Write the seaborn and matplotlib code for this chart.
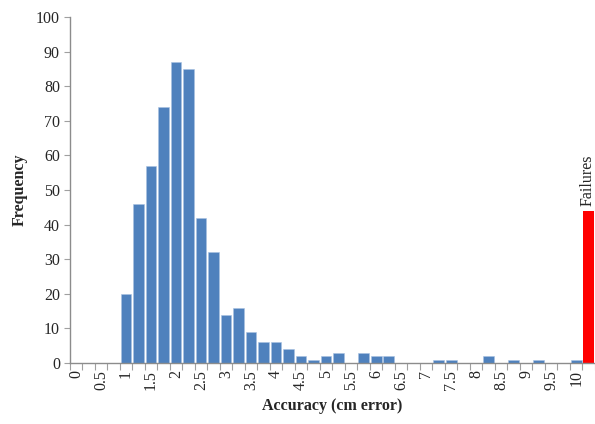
import numpy as np
import pandas as pd
import matplotlib
matplotlib.use("Agg")
import matplotlib.pyplot as plt
import seaborn as sns

# Histogram of accuracy (0.25 cm bins) + failures count
bins = [0, 0.25, 0.5, 0.75, 1, 1.25, 1.5, 1.75, 2, 2.25, 2.5, 2.75, 3, 3.25,
        3.5, 3.75, 4, 4.25, 4.5, 4.75, 5, 5.25, 5.5, 5.75, 6, 6.25, 6.5, 6.75,
        7, 7.25, 7.5, 7.75, 8, 8.25, 8.5, 8.75, 9, 9.25, 9.5, 9.75, 10]
counts = [0, 0, 0, 0, 20, 46, 57, 74, 87, 85, 42, 32, 14, 16,
          9, 6, 6, 4, 2, 1, 2, 3, 0, 3, 2, 2, 0, 0,
          0, 1, 1, 0, 0, 2, 0, 1, 0, 1, 0, 0, 1]
failures = 44

cats = [f"{b:g}" for b in bins] + ["Failures"]
vals = counts + [failures]
kind = ["hist"] * len(bins) + ["fail"]
df = pd.DataFrame({"bin": cats, "count": vals, "kind": kind})

sns.set_style("ticks")
plt.rcParams["font.family"] = ["Liberation Serif", "DejaVu Serif"]

fig = plt.figure(figsize=(5.95, 4.24), dpi=100)
ax = fig.add_axes([69.7 / 595, 61 / 424, 525.3 / 595, 346 / 424])

sns.barplot(data=df, x="bin", y="count", hue="kind", order=cats,
            palette={"hist": "#4F81BD", "fail": "#FF0000"},
            dodge=False, legend=False, width=0.86, saturation=1,
            edgecolor="#A9C1E2", linewidth=0.4, ax=ax)

# red bar without the light edge
for p in ax.patches:
    if p.get_facecolor()[0] > 0.9:
        p.set_edgecolor("none")

ax.set_xlim(-0.5, len(cats) - 0.5)
ax.set_ylim(0, 100)
ax.set_yticks(np.arange(0, 101, 10))

# labels every 0.5, tick marks between categories
labels = [c if i % 2 == 0 and c != "Failures" else "" for i, c in enumerate(cats)]
ax.set_xticks(range(len(cats)))
ax.set_xticklabels(labels, rotation=90, fontsize=11.5)
ax.set_xticks(np.arange(-0.5, len(cats), 1), minor=True)
ax.tick_params(axis="x", which="major", length=0, pad=5)
ax.tick_params(axis="x", which="minor", length=5, color="#A0A0A0", width=0.8)
ax.tick_params(axis="y", length=4, color="#A0A0A0", width=0.8, labelsize=11.5, pad=3)

ax.text(len(cats) - 1.1, failures + 1.5, "Failures", rotation=90, ha="center",
        va="bottom", fontsize=11.5)

ax.set_xlabel("Accuracy (cm error)", fontsize=11.5, fontweight="bold", labelpad=6)
ax.set_ylabel("Frequency", fontsize=11.5, fontweight="bold", labelpad=6)

sns.despine(ax=ax)
for s in ["left", "bottom"]:
    ax.spines[s].set_color("#8C8C8C")
    ax.spines[s].set_linewidth(1.0)

fig.savefig("out.png", dpi=100)
